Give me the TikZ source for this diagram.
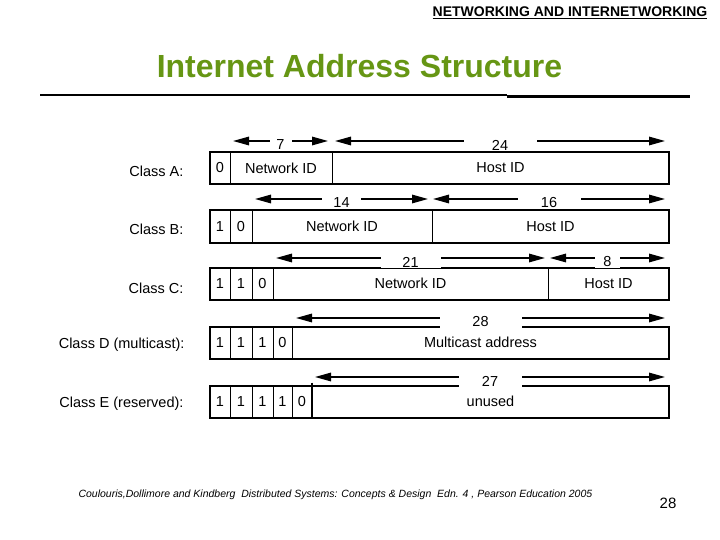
\documentclass[tikz,border=0pt]{standalone}
\usepackage{fontspec}
\setmainfont{Liberation Sans}
\usepackage{xcolor}
\usetikzlibrary{arrows.meta,positioning}
\definecolor{titlegreen}{RGB}{102,150,20}

\begin{document}
\begin{tikzpicture}[x=1pt, y=-1pt,
		field/.style={draw, line width=1pt, inner sep=0pt, outer sep=0pt, minimum height=32pt, font=\fontsize{14.5}{16}\selectfont},
		frame/.style={draw, line width=2pt},
		dim/.style={{Triangle[length=16pt,width=8.5pt]}-{Triangle[length=16pt,width=8.5pt]}, line width=1.5pt},
		dimlabel/.style={fill=white, inner ysep=1pt, yshift=-4pt, font=\fontsize{14.5}{16}\selectfont},
		classlabel/.style={anchor=east, font=\fontsize{14.5}{16}\selectfont}]
		\useasboundingbox (0,0) rectangle (720,540);

		% header and title
		\node[anchor=base, font=\bfseries\fontsize{14}{16}\selectfont] (hdr) at (570,17) {\underline{NETWORKING AND INTERNETWORKING}};
		\node[anchor=base, text=titlegreen, font=\bfseries\fontsize{32}{35}\selectfont] (title) at (359.5,78) {Internet Address Structure};
		\draw[line width=2pt] (40,95.5) -- (507,95.5);
		\draw[line width=3pt] (507,97) -- (690,97);

		% class A
		\node[classlabel] (ca) at (187,171) {Class A:};
		\node[field, anchor=west, minimum width=20pt] (a1) at (210,168) {0};
		\node[field, minimum width=102pt, right=0pt of a1] (a2) {Network ID};
		\node[field, minimum width=337pt, right=0pt of a2] (a3) {Host ID};
		\draw[frame] (a1.north west) rectangle (a3.south east);
		\coordinate (a7l) at (233,141);
		\coordinate (a7r) at (328,141);
		\coordinate (a24l) at (335,141);
		\coordinate (a24r) at (665,141);
		\draw[dim] (a7l) -- (a7r) node[midway, dimlabel, minimum width=22pt] {7};
		\draw[dim] (a24l) -- (a24r) node[midway, dimlabel, minimum width=73pt] {24};

		% class B
		\node[classlabel] (cb) at (187,229) {Class B:};
		\node[field, anchor=west, minimum width=20pt] (b1) at (210,226.5) {1};
		\node[field, minimum width=22pt, right=0pt of b1] (b2) {0};
		\node[field, minimum width=180pt, right=0pt of b2] (b3) {Network ID};
		\node[field, minimum width=237pt, right=0pt of b3] (b4) {Host ID};
		\draw[frame] (b1.north west) rectangle (b4.south east);
		\coordinate (b14l) at (255,199);
		\coordinate (b14r) at (428,199);
		\coordinate (b16l) at (433,199);
		\coordinate (b16r) at (665,199);
		\draw[dim] (b14l) -- (b14r) node[midway, dimlabel, minimum width=39pt] {14};
		\draw[dim] (b16l) -- (b16r) node[midway, dimlabel, minimum width=63pt] {16};

		% class C
		\node[classlabel] (cc) at (187,288) {Class C:};
		\node[field, anchor=west, minimum width=20pt] (c1) at (210,283.5) {1};
		\node[field, minimum width=22pt, right=0pt of c1] (c2) {1};
		\node[field, minimum width=21pt, right=0pt of c2] (c3) {0};
		\node[field, minimum width=275pt, right=0pt of c3] (c4) {Network ID};
		\node[field, minimum width=121pt, right=0pt of c4] (c5) {Host ID};
		\draw[frame] (c1.north west) rectangle (c5.south east);
		\coordinate (c21l) at (276,258);
		\coordinate (c21r) at (545,258);
		\coordinate (c8l) at (550,258);
		\coordinate (c8r) at (665,258);
		\draw[dim] (c21l) -- (c21r) node[midway, dimlabel, minimum width=60pt] {21};
		\draw[dim] (c8l) -- (c8r) node[midway, dimlabel, minimum width=25pt] {8};

		% class D
		\node[classlabel] (cd) at (188,345) {Class D (multicast):};
		\node[field, anchor=west, minimum width=20pt] (d1) at (210,342.5) {1};
		\node[field, minimum width=22pt, right=0pt of d1] (d2) {1};
		\node[field, minimum width=21pt, right=0pt of d2] (d3) {1};
		\node[field, minimum width=19pt, right=0pt of d3] (d4) {0};
		\node[field, minimum width=377pt, right=0pt of d4] (d5) {Multicast address};
		\draw[frame] (d1.north west) rectangle (d5.south east);
		\coordinate (d28l) at (296,318);
		\coordinate (d28r) at (665,318);
		\draw[dim] (d28l) -- (d28r) node[midway, dimlabel, minimum width=82pt] {28};

		% class E
		\node[classlabel] (ce) at (187,404) {Class E (reserved):};
		\node[field, anchor=west, minimum width=20pt] (e1) at (210,401.5) {1};
		\node[field, minimum width=22pt, right=0pt of e1] (e2) {1};
		\node[field, minimum width=21pt, right=0pt of e2] (e3) {1};
		\node[field, minimum width=19pt, right=0pt of e3] (e4) {1};
		\node[field, minimum width=20pt, right=0pt of e4] (e5) {0};
		\node[field, minimum width=357pt, right=0pt of e5] (e6) {unused};
		\draw[frame] (e1.north west) rectangle (e6.south east);
		\draw[frame] ([yshift=3pt]e6.north west) -- (e6.south west);
		\coordinate (e27l) at (315,377);
		\coordinate (e27r) at (665,377);
		\draw[dim] (e27l) -- (e27r) node[midway, dimlabel, minimum width=63pt] {27};

		% footer
		\node[anchor=west, font=\itshape\fontsize{10.5}{12}\selectfont] (src) at (75,495) {Coulouris,Dollimore and Kindberg\ \ Distributed Systems: Concepts \& Design\ \ Edn. 4 , Pearson Education 2005};
		\node[font=\fontsize{15}{17}\selectfont] (page) at (668,503) {28};
	\end{tikzpicture}
\end{document}
